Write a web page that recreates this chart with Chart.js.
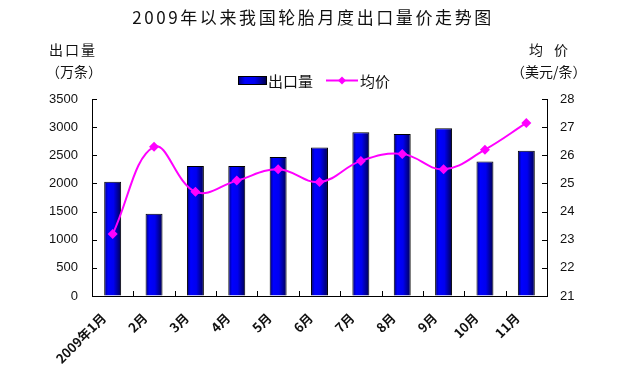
<!DOCTYPE html>
<html>
<head>
<meta charset="utf-8">
<script src="https://cdn.jsdelivr.net/npm/chart.js@4/dist/chart.umd.min.js"></script>
<style>
  html, body { margin: 0; padding: 0; background: #fff; }
  #wrap { width: 640px; height: 387px; position: relative; }
</style>
</head>
<body>
<div id="wrap"><canvas id="chart"></canvas></div>
<script>
// data
const months = ['2009年1月', '2月', '3月', '4月', '5月', '6月', '7月', '8月', '9月', '10月', '11月'];
const exportVolume = [2030, 1460, 2310, 2310, 2470, 2640, 2910, 2880, 2980, 2390, 2580]; // 万条
const avgPrice = [23.2, 26.3, 24.7, 25.1, 25.5, 25.05, 25.8, 26.05, 25.5, 26.2, 27.15]; // 美元/条

const titleText = '2009年以来我国轮胎月度出口量价走势图';
const CJK = '"Noto Sans CJK SC", "Liberation Sans", sans-serif';
const TICK_FONT = { family: '"Liberation Sans", Arial, sans-serif', size: 13 };

// --- bar shading: dark edges, bright blue middle ---
const barShade = {
  id: 'barShade',
  beforeDatasetsDraw(chart) {
    const ctx = chart.ctx;
    const meta = chart.getDatasetMeta(0);
    meta.data.forEach(bar => {
      const x0 = bar.x - bar.width / 2, x1 = bar.x + bar.width / 2;
      const g = ctx.createLinearGradient(x0, 0, x1, 0);
      g.addColorStop(0, '#000070');
      g.addColorStop(0.22, '#0000ff');
      g.addColorStop(0.55, '#0000f0');
      g.addColorStop(1, '#000050');
      bar.options = Object.assign({}, bar.options, { backgroundColor: g });
    });
  }
};

// --- small tick marks pointing into the plot, title, axis titles, legend ---
const decorations = {
  id: 'decorations',
  afterDraw(chart) {
    const ctx = chart.ctx;
    const area = chart.chartArea;
    const { x, y, y1 } = chart.scales;
    ctx.save();
    ctx.strokeStyle = '#000';
    ctx.lineWidth = 1;
    ctx.beginPath();
    y.ticks.forEach(t => {
      const py = Math.round(y.getPixelForValue(t.value)) + 0.5;
      ctx.moveTo(area.left, py); ctx.lineTo(area.left + 5, py);
    });
    y1.ticks.forEach(t => {
      const py = Math.round(y1.getPixelForValue(t.value)) + 0.5;
      ctx.moveTo(area.right, py); ctx.lineTo(area.right - 5, py);
    });
    for (let i = 0; i < months.length - 1; i++) {
      const px = Math.round((x.getPixelForValue(i) + x.getPixelForValue(i + 1)) / 2) + 0.5;
      ctx.moveTo(px, area.bottom); ctx.lineTo(px, area.bottom - 5);
    }
    ctx.stroke();

    ctx.fillStyle = '#111';
    ctx.textBaseline = 'middle';

    // title
    ctx.font = '17px ' + CJK;
    ctx.letterSpacing = '2.6px';
    ctx.textAlign = 'center';
    ctx.fillText(titleText, 313, 18);

    // axis titles
    ctx.font = '14px ' + CJK;
    ctx.letterSpacing = '2px';
    ctx.textAlign = 'left';
    ctx.fillText('出口量', 49, 50);
    ctx.letterSpacing = '0px';
    ctx.font = '14px ' + CJK;
    ctx.fillText('（万条）', 46, 72);
    ctx.fillText('均', 529, 50);
    ctx.fillText('价', 554, 50);
    ctx.fillText('（美元/条）', 511, 72);

    // legend
    const lg = ctx.createLinearGradient(238, 0, 266, 0);
    lg.addColorStop(0, '#000070');
    lg.addColorStop(0.25, '#0000ff');
    lg.addColorStop(0.6, '#0000f0');
    lg.addColorStop(1, '#000050');
    ctx.fillStyle = lg;
    ctx.fillRect(238.5, 76.5, 28, 8);
    ctx.strokeRect(238.5, 76.5, 28, 8);
    ctx.fillStyle = '#111';
    ctx.font = '15px ' + CJK;
    ctx.fillText('出口量', 268, 81);
    ctx.strokeStyle = '#ff00ff';
    ctx.lineWidth = 2;
    ctx.beginPath();
    ctx.moveTo(326, 80.5); ctx.lineTo(358, 80.5);
    ctx.stroke();
    ctx.fillStyle = '#ff00ff';
    ctx.beginPath();
    ctx.moveTo(342, 76.5); ctx.lineTo(346, 80.5); ctx.lineTo(342, 84.5); ctx.lineTo(338, 80.5);
    ctx.closePath();
    ctx.fill();
    ctx.fillStyle = '#111';
    ctx.fillText('均价', 360, 81);
    ctx.restore();
  }
};

new Chart(document.getElementById('chart'), {
  type: 'bar',
  data: {
    labels: months,
    datasets: [
      {
        type: 'bar',
        label: '出口量',
        data: exportVolume,
        yAxisID: 'y',
        backgroundColor: '#0000ff',
        borderColor: '#000',
        borderWidth: 1,
        barPercentage: 0.41,
        categoryPercentage: 1,
        order: 2
      },
      {
        type: 'line',
        label: '均价',
        data: avgPrice,
        yAxisID: 'y1',
        borderColor: '#ff00ff',
        backgroundColor: '#ff00ff',
        borderWidth: 2,
        tension: 0.4,
        pointStyle: 'rectRot',
        pointRadius: 5,
        pointBorderWidth: 0,
        order: 1
      }
    ]
  },
  options: {
    responsive: true,
    maintainAspectRatio: false,
    animation: false,
    layout: { padding: { top: 99, left: 0, right: 0, bottom: 0 } },
    plugins: {
      legend: { display: false },
      title: { display: false },
      tooltip: { enabled: false }
    },
    scales: {
      x: {
        grid: { display: false, drawTicks: false },
        border: { display: true, color: '#000', width: 1 },
        ticks: {
          color: '#111',
          font: { family: CJK, size: 13, weight: 'bold' },
          minRotation: 45,
          maxRotation: 45,
          padding: 14,
          labelOffset: -9,
          autoSkip: false
        },
        afterFit(scale) { scale.height = 91; }
      },
      y: {
        position: 'left',
        min: 0,
        max: 3500,
        grid: { drawOnChartArea: false, drawTicks: false },
        border: { display: true, color: '#000', width: 1 },
        ticks: { stepSize: 500, color: '#111', font: TICK_FONT, padding: 14, callback: v => String(v) },
        afterFit(scale) { scale.width = 92; }
      },
      y1: {
        position: 'right',
        min: 21,
        max: 28,
        grid: { drawOnChartArea: false, drawTicks: false },
        border: { display: true, color: '#000', width: 1 },
        ticks: { stepSize: 1, color: '#111', font: TICK_FONT, padding: 13 },
        afterFit(scale) { scale.width = 93; }
      }
    }
  },
  plugins: [barShade, decorations]
});
</script>
</body>
</html>
